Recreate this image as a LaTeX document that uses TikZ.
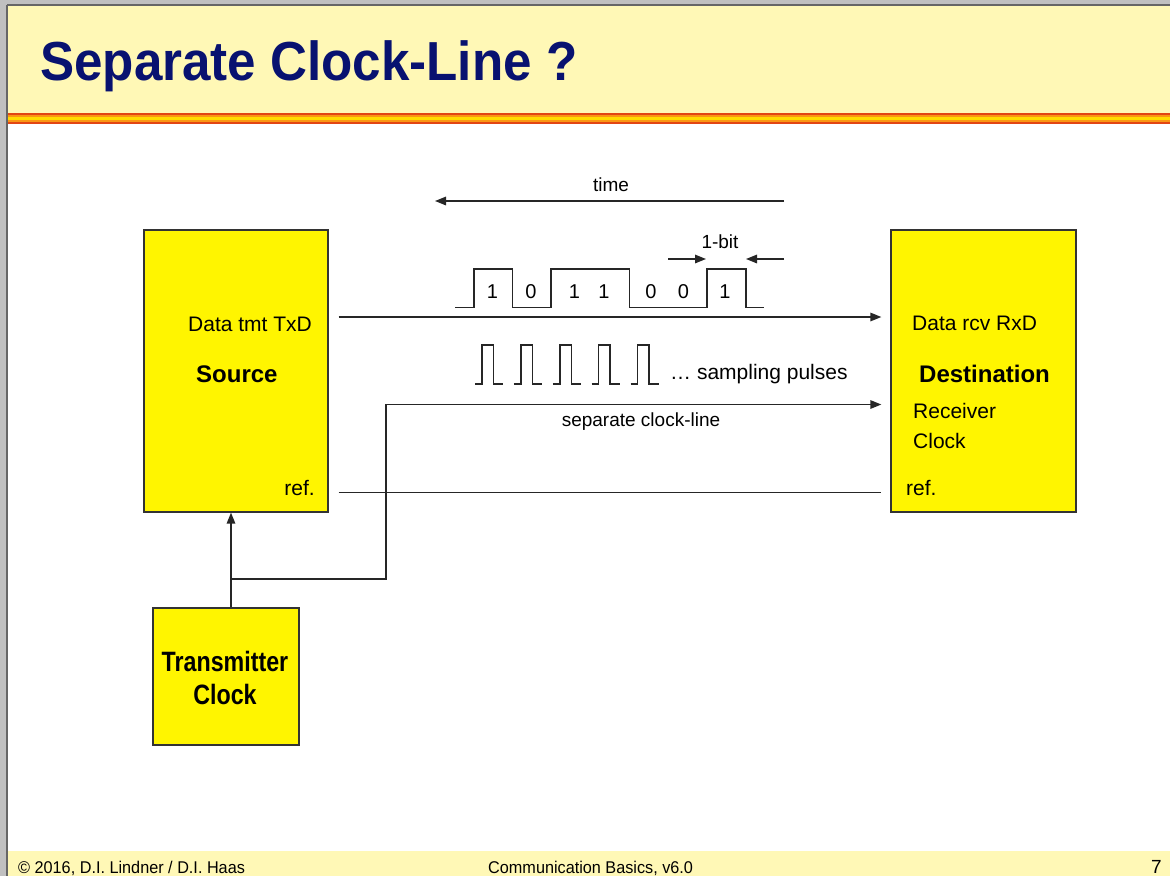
\documentclass[tikz,border=0pt]{standalone}
\usepackage{fontspec}
\setmainfont{Liberation Sans}
\newfontfamily\titlefont[FakeStretch=0.93]{Liberation Sans}
\newfontfamily\narrowfont[FakeStretch=0.83]{Liberation Sans}
\newfontfamily\footfont[FakeStretch=0.955]{Liberation Sans}
\usetikzlibrary{arrows.meta}
\definecolor{bandyellow}{RGB}{255,248,182}
\definecolor{boxyellow}{RGB}{255,245,0}
\definecolor{titleblue}{RGB}{8,18,112}
\definecolor{stripered}{RGB}{226,70,20}
\definecolor{stripeorange}{RGB}{250,150,20}
\definecolor{stripeyellow}{RGB}{255,220,0}
\definecolor{framegray}{RGB}{150,150,150}
\tikzset{
  x=1pt, y=-1pt,
  block/.style={draw=black!80, line width=1.3pt, fill=boxyellow, inner sep=0pt},
  lbl/.style={inner sep=0pt, font=\fontsize{21}{24}\selectfont},
  small/.style={inner sep=0pt, font=\fontsize{19}{22}\selectfont},
  wire/.style={line width=1.5pt, black!85},
  arr/.style={wire, -{Triangle[length=11pt,width=8.5pt]}},
}
\begin{document}
\begin{tikzpicture}
\useasboundingbox (0,0) rectangle (1170,876);
% slide frame and bands
\fill[white] (0,0) rectangle (1170,876);
\fill[bandyellow] (8,6) rectangle (1170,113);
\fill[stripered] (8,112.5) rectangle (1170,123.5);
\fill[stripeorange] (8,114.5) rectangle (1170,121.5);
\fill[stripeyellow] (8,116.5) rectangle (1170,119.5);
\fill[bandyellow] (8,851) rectangle (1170,876);
\fill[framegray!60] (0,0) rectangle (1170,6);
\fill[framegray!60] (0,0) rectangle (8,876);
\draw[black!60, line width=2.5pt] (7,5) -- (1170,5);
\draw[black!60, line width=2.5pt] (7,5) -- (7,876);

% title and footer
\node[anchor=base west, inner sep=0pt, text=titleblue,
      font=\titlefont\bfseries\fontsize{55}{60}\selectfont] (title) at (40,80) {Separate Clock-Line ?};
\node[anchor=base west, inner sep=0pt, font=\footfont\fontsize{17}{18}\selectfont] (foot1) at (18,873) {© 2016, D.I. Lindner / D.I. Haas};
\node[anchor=base west, inner sep=0pt, font=\footfont\fontsize{17}{18}\selectfont] (foot2) at (488,873) {Communication Basics, v6.0};
\node[anchor=base east, inner sep=0pt, font=\fontsize{19}{20}\selectfont] (page) at (1162,873) {7};

% blocks
\node[block, minimum width=184pt, minimum height=282pt] (src) at (236,371) {};
\node[block, minimum width=185pt, minimum height=282pt] (dst) at (983.5,371) {};
\node[block, minimum width=146pt, minimum height=137pt] (txc) at (226,676.5) {};

% texts in the source block
\node[lbl, anchor=base west] (txd) at (188,331) {Data tmt TxD};
\node[lbl, anchor=base west, font=\bfseries\fontsize{24}{26}\selectfont] (srcname) at (196,382) {Source};
\node[lbl, anchor=base east] (srcref) at (315,495) {ref.};
% texts in the destination block
\node[lbl, anchor=base west] (rxd) at (912,330) {Data rcv RxD};
\node[lbl, anchor=base west, font=\bfseries\fontsize{24}{26}\selectfont] (dstname) at (919,382) {Destination};
\node[lbl, anchor=base west] (rcv) at (913,418) {Receiver};
\node[lbl, anchor=base west] (rcvclk) at (913,448) {Clock};
\node[lbl, anchor=base west] (dstref) at (906,495) {ref.};
% transmitter clock text
\node[inner sep=0pt, anchor=base, font=\narrowfont\bfseries\fontsize{28}{30}\selectfont] (txct1) at (225,671) {Transmitter};
\node[inner sep=0pt, anchor=base, font=\narrowfont\bfseries\fontsize{28}{30}\selectfont] (txct2) at (225,704) {Clock};

% time axis
\coordinate (tstart) at (784,201);
\coordinate (tend) at (435,201);
\draw[arr] (tstart) -- (tend);
\node[small, anchor=base] (time) at (611,191.5) {time};

% one bit width marker
\node[small, anchor=base] (bitlbl) at (720,248) {1-bit};
\coordinate (b1) at (668,259);
\coordinate (b2) at (706,259);
\coordinate (b3) at (784,259);
\coordinate (b4) at (746,259);
\draw[arr] (b1) -- (b2);
\draw[arr] (b3) -- (b4);

% data waveform 1 0 1 1 0 0 1
\draw[wire] (455,307.5) -- (474,307.5) -- (474,269) -- (512.5,269) -- (512.5,307.5)
  -- (551,307.5) -- (551,269) -- (629.5,269) -- (629.5,307.5) -- (707,307.5) -- (707,269)
  -- (746,269) -- (746,307.5) -- (764,307.5);
\foreach \xx/\bit [count=\i] in {492.5/1,531/0,574.5/1,604/1,651/0,683.5/0,725/1}
  \node[small, font=\fontsize{20}{22}\selectfont, anchor=base] (bit\i) at (\xx,298.5) {\bit};

% sampling pulses
\foreach \k [count=\i] in {0,1,2,3,4} {
  \draw[wire] (475+38.9*\k,384) -- (482+38.9*\k,384) -- (482+38.9*\k,345)
     -- (493.5+38.9*\k,345) -- (493.5+38.9*\k,384) -- (503+38.9*\k,384);
}
\node[small, font=\fontsize{21}{22}\selectfont, anchor=base west] (samp) at (670,379.5) {\dots\ sampling pulses};

% data line
\draw[arr, shorten <=10pt, shorten >=9pt] (src.east |- 0,317) -- (dst.west |- 0,317);

% clock distribution
\coordinate (tap) at (231,579);
\coordinate (bend) at (386,404.5);
\draw[arr] (tap |- txc.north) -- (tap |- src.south);
\draw[arr, shorten >=9pt] (tap) -| (bend) -- (dst.west |- bend);
\node[small, anchor=base] (clklbl) at (641,426) {separate clock-line};

% reference line
\draw[wire, shorten <=10pt, shorten >=9pt] (src.east |- 0,492.5) -- (dst.west |- 0,492.5);
\end{tikzpicture}
\end{document}
